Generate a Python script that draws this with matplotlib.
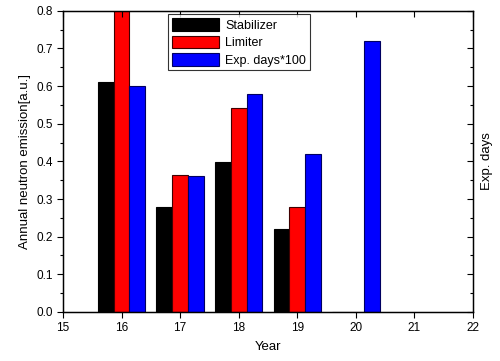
import numpy as np
import matplotlib
matplotlib.use("Agg")
import matplotlib.pyplot as plt
from matplotlib.ticker import MultipleLocator

plt.rcParams['font.family'] = ['Liberation Sans', 'DejaVu Sans']

years = [16, 17, 18, 19, 20]
stabilizer = [0.61, 0.28, 0.397, 0.22, 0.0]
limiter = [0.85, 0.365, 0.543, 0.28, 0.0]
exp_days = [0.60, 0.36, 0.58, 0.42, 0.72]

fig = plt.figure(figsize=(5, 3.61), dpi=100)
ax = fig.add_axes([0.126, 0.136, 0.82, 0.834])

x = np.array(years, dtype=float)
w = 0.27
ax.bar(x - w, stabilizer, w, color='black', edgecolor='black', lw=0.8,
       label='Stabilizer')
ax.bar(x, limiter, w, color='red', edgecolor='#400000', lw=0.8,
       label='Limiter')
ax.bar(x + w, exp_days, w, color='blue', edgecolor='#000060', lw=0.8,
       label='Exp. days*100')

ax.set_xlim(15, 22)
ax.set_ylim(0, 0.8)
ax.xaxis.set_major_locator(MultipleLocator(1))
ax.yaxis.set_major_locator(MultipleLocator(0.1))
ax.yaxis.set_minor_locator(MultipleLocator(0.05))
ax.yaxis.set_major_formatter(plt.FormatStrFormatter('%.1f'))
ax.tick_params(axis='both', labelsize=8.5, length=4, width=0.8)
ax.tick_params(axis='y', which='minor', length=2.5, width=0.8)
for s in ax.spines.values():
    s.set_linewidth(1.0)

ax.set_xlabel('Year', fontsize=9.5, labelpad=5)
ax.set_ylabel('Annual neutron emission[a.u.]', fontsize=9.5, labelpad=4)

ax2 = ax.twinx()
ax2.set_ylim(0, 0.8)
ax2.yaxis.set_major_locator(MultipleLocator(0.1))
ax2.yaxis.set_minor_locator(MultipleLocator(0.05))
ax2.tick_params(axis='y', which='both', direction='in', labelright=False,
                length=4, width=0.8)
ax2.tick_params(axis='y', which='minor', length=2.5)
ax2.set_ylabel('Exp. days', fontsize=9.5, labelpad=6)

# top ticks inward
ax.tick_params(axis='x', which='major', top=True)
for t in ax.xaxis.get_major_ticks():
    t.tick2line.set_marker(3)
    t.tick2line.set_markersize(4)

leg = ax.legend(loc='upper left', bbox_to_anchor=(0.256, 0.988), fontsize=9,
                frameon=True, fancybox=False, edgecolor='black',
                handlelength=3.8, handleheight=1.2, borderpad=0.3,
                labelspacing=0.3, handletextpad=0.5, borderaxespad=0)
leg.get_frame().set_linewidth(0.8)

fig.savefig('out.png', dpi=100)
